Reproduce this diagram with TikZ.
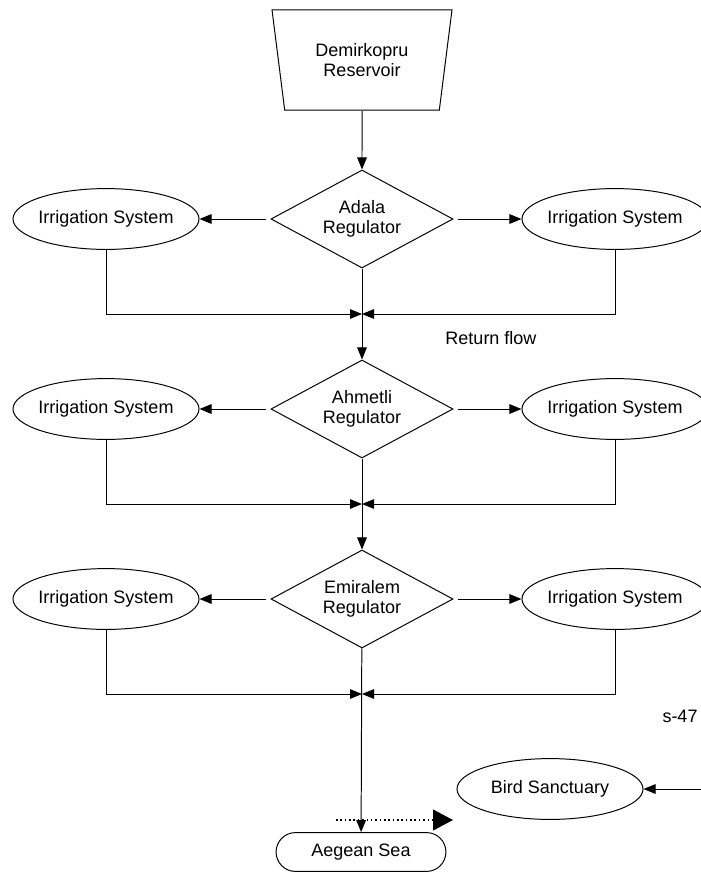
\documentclass[tikz,border=0pt]{standalone}
\usepackage{fontspec}
\setmainfont{Liberation Sans}
\usepackage{tikz}
\usetikzlibrary{shapes.geometric,shapes.misc,arrows.meta,positioning,calc}
\tikzset{
    reservoir/.style={trapezium, trapezium left angle=79, trapezium right angle=79,
                      shape border rotate=180, trapezium stretches=true,
                      minimum width=4.5cm, minimum height=2.5cm, draw=black,
                      align=center, line width=0.7pt},
    regulator/.style={diamond, aspect=2, inner sep=0pt, minimum width=4.55cm,
                      minimum height=2.45cm, draw=black, align=center, line width=0.7pt},
    irrigation/.style={ellipse, inner xsep=-0.5mm, inner ysep=0pt, minimum width=4.65cm,
                       minimum height=1.52cm, draw=black, line width=0.7pt},
    sea/.style={rounded rectangle, minimum width=4.48cm, minimum height=0.97cm,
                draw=black, line width=0.7pt},
    flow/.style={-{Triangle[length=3mm, width=2.4mm]}, line width=0.7pt},
    outflow/.style={-{Triangle[length=3mm, width=2.4mm]}, line width=0.7pt, shorten <=1.2mm}
}

\begin{document}
\begin{tikzpicture}[x=0.025cm, y=-0.025cm, font=\fontsize{12.8}{14.6}\selectfont]

\useasboundingbox (0,0) rectangle (700,873);

% === NODES ===

% Reservoir
\node[reservoir] (res) at (362,60) {Demirkopru\\Reservoir};

% Regulators
\node[regulator] (adala) at (362,219) {Adala\\Regulator};
\node[regulator] (ahmetli) at (362,409) {Ahmetli\\Regulator};
\node[regulator] (emiralem) at (362,599) {Emiralem\\Regulator};

% Irrigation systems
\node[irrigation] (irrL1) at (106,219) {Irrigation System};
\node[irrigation] (irrR1) at (615,219) {Irrigation System};
\node[irrigation] (irrL2) at (106,409) {Irrigation System};
\node[irrigation] (irrR2) at (615,409) {Irrigation System};
\node[irrigation] (irrL3) at (106,599) {Irrigation System};
\node[irrigation] (irrR3) at (615,599) {Irrigation System};

% Return flow junctions
\coordinate (j1) at (362,314);
\coordinate (j2) at (362,504);
\coordinate (j3) at (362,694);

% Outlets
\node[irrigation] (bird) at (550,789) {Bird Sanctuary};
\node[sea] (sea) at (361,852) {Aegean Sea};
\coordinate (birdin) at (702,789);
\coordinate (dotA) at (336,820);
\coordinate (dotB) at (453,820);

% Labels
\node (ret) at (491,338) {Return flow};
\node (tag) at (680,716) {s-47};

% === ARROWS ===

% 1. Reservoir to Adala
\draw[flow] (res) -- (adala);

% 2. Adala to irrigation
\draw[outflow] (adala.west) -- (irrL1);
\draw[outflow] (adala.east) -- (irrR1);
\draw[flow] (irrL1.south) |- (j1);
\draw[flow] (irrR1.south) |- (j1);

% 3. Adala to Ahmetli
\draw[flow] (adala) -- (ahmetli);

% 4. Ahmetli to irrigation
\draw[outflow] (ahmetli.west) -- (irrL2);
\draw[outflow] (ahmetli.east) -- (irrR2);
\draw[flow] (irrL2.south) |- (j2);
\draw[flow] (irrR2.south) |- (j2);

% 5. Ahmetli to Emiralem
\draw[flow] (ahmetli) -- (emiralem);

% 6. Emiralem to irrigation
\draw[outflow] (emiralem.west) -- (irrL3);
\draw[outflow] (emiralem.east) -- (irrR3);
\draw[flow] (irrL3.south) |- (j3);
\draw[flow] (irrR3.south) |- (j3);

% 7. Emiralem to sea
\draw[flow] (emiralem) -- (sea);

% 8. Bird sanctuary inflow
\draw[flow] (birdin) -- (bird);

% 9. Dotted flow
\draw[dotted, line width=1.1pt, -{Triangle[length=5mm, width=5.2mm]}] (dotA) -- (dotB);

\end{tikzpicture}
\end{document}
